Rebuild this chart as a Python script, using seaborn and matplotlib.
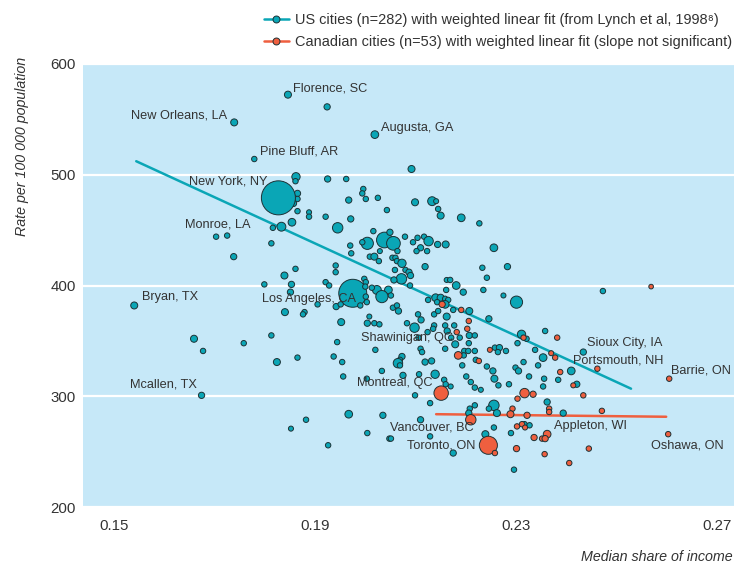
import matplotlib

matplotlib.use("Agg")  # no display
import matplotlib.pyplot as plt
import pandas as pd
import seaborn as sns
from matplotlib.lines import Line2D

# US cities: median share of income, rate per 100 000, population weight
us_share = [
    0.1846, 0.1924, 0.1739, 0.2019, 0.1779, 0.2092, 0.1862, 0.1861, 0.1925, 0.1962,
    0.1865, 0.1865, 0.1857, 0.1806, 0.1865, 0.1888, 0.1888, 0.1921, 0.1971, 0.1967,
    0.1996, 0.1994, 0.2001, 0.2025, 0.2043, 0.1854, 0.1833, 0.1816, 0.1945, 0.1703,
    0.1725, 0.1813, 0.1738, 0.1970, 0.1972, 0.2004, 0.2038, 0.2056, 0.2016, 0.2049,
    0.1994, 0.2079, 0.2009, 0.2018, 0.2027, 0.2029, 0.1941, 0.1941, 0.1861, 0.1839,
    0.1799, 0.1853, 0.1851, 0.1921, 0.1928, 0.1975, 0.1998, 0.2001, 0.2000, 0.2023,
    0.2046, 0.2033, 0.2051, 0.2013, 0.2001, 0.2003, 0.1942, 0.1905, 0.1990, 0.1951,
    0.2099, 0.2133, 0.2141, 0.2145, 0.2150, 0.2191, 0.2227, 0.2095, 0.2104, 0.2117,
    0.2126, 0.2110, 0.2102, 0.2123, 0.2144, 0.2160, 0.2256, 0.2064, 0.2054, 0.2060,
    0.2063, 0.2073, 0.2119, 0.2059, 0.2080, 0.2087, 0.2090, 0.2072, 0.2057, 0.2089,
    0.2233, 0.2283, 0.2242, 0.2162, 0.2169, 0.2181, 0.2161, 0.2195, 0.2235, 0.2275,
    0.2301, 0.2140, 0.2150, 0.2159, 0.2125, 0.2165, 0.2143, 0.2159, 0.2137, 0.2145,
    0.2162, 0.2175, 0.2207, 0.2246, 0.2055, 0.2063, 0.2066, 0.1952, 0.2004, 0.2018,
    0.2028, 0.2105, 0.2111, 0.2098, 0.2083, 0.2008, 0.1840, 0.1879, 0.1876, 0.1659,
    0.1677, 0.1758, 0.1813, 0.1824, 0.1865, 0.1944, 0.1937, 0.1954, 0.2020, 0.2033,
    0.1956, 0.2003, 0.1540, 0.1674, 0.1967, 0.2035, 0.1882, 0.1852, 0.2004, 0.1926,
    0.2048, 0.1827, 0.2137, 0.2135, 0.2159, 0.2163, 0.2177, 0.2124, 0.2171, 0.2188,
    0.2207, 0.2218, 0.2206, 0.2179, 0.2106, 0.2110, 0.2113, 0.2159, 0.2197, 0.2205,
    0.2218, 0.2196, 0.2073, 0.2069, 0.2065, 0.2069, 0.2119, 0.2132, 0.2193, 0.2220,
    0.2242, 0.2254, 0.2257, 0.2265, 0.2280, 0.2258, 0.2267, 0.2264, 0.2303, 0.2311,
    0.2321, 0.2338, 0.2358, 0.2354, 0.2344, 0.2315, 0.2299, 0.2305, 0.2326, 0.2356,
    0.2354, 0.2384, 0.2410, 0.2421, 0.2434, 0.2286, 0.2218, 0.2210, 0.2230, 0.2201,
    0.2157, 0.2160, 0.2139, 0.2170, 0.2107, 0.2075, 0.2099, 0.2129, 0.2256, 0.2246,
    0.2262, 0.2218, 0.2208, 0.2206, 0.2362, 0.2394, 0.2317, 0.2256, 0.2290, 0.2239,
    0.2129, 0.2110, 0.2051, 0.2175, 0.2296, 0.2473, 0.2327,
]
us_rate = [
    572, 561, 547, 536, 514, 505, 498, 494, 496, 496,
    483, 478, 474, 474, 467, 466, 462, 462, 460, 477,
    487, 483, 478, 479, 468, 457, 453, 452, 452, 444,
    445, 438, 426, 436, 429, 438, 441, 438, 449, 448,
    439, 444, 426, 426, 422, 431, 418, 412, 415, 409,
    401, 401, 394, 403, 400, 393, 406, 403, 399, 396,
    396, 390, 391, 398, 390, 385, 381, 383, 382, 383,
    475, 476, 476, 469, 463, 461, 456, 439, 443, 444,
    440, 434, 431, 431, 437, 437, 434, 431, 425, 425,
    422, 420, 417, 414, 414, 412, 409, 406, 405, 400,
    416, 417, 407, 405, 405, 400, 396, 394, 396, 391,
    385, 389, 389, 388, 387, 387, 385, 383, 374, 377,
    372, 378, 377, 370, 380, 382, 377, 367, 366, 366,
    365, 374, 369, 362, 366, 372, 376, 376, 374, 352,
    341, 348, 355, 331, 335, 349, 336, 331, 342, 323,
    318, 316, 382, 301, 284, 283, 279, 271, 267, 256,
    262, 479, 364, 361, 364, 359, 364, 358, 353, 353,
    355, 355, 348, 347, 353, 343, 340, 343, 341, 341,
    341, 337, 336, 333, 330, 328, 331, 332, 328, 333,
    327, 323, 316, 310, 341, 344, 344, 340, 348, 356,
    352, 342, 359, 335, 328, 331, 326, 323, 318, 316,
    309, 315, 323, 311, 340, 311, 308, 313, 306, 318,
    315, 311, 320, 309, 320, 319, 301, 294, 292, 289,
    285, 292, 289, 285, 295, 285, 275, 272, 267, 266,
    264, 279, 262, 249, 234, 395, 274,
]
us_pop = [
    2, 1.5, 2, 2.5, 1, 2, 3, 1, 1.5, 1,
    1.5, 1, 1.5, 1, 1, 0.8, 1, 1, 1.5, 1.5,
    1, 1, 1, 1, 1, 2.5, 3.5, 1, 5, 1,
    1, 1, 1.5, 1, 1, 7, 12, 9, 1, 1.5,
    1, 1, 1, 2, 1, 0.8, 1, 1, 1, 2,
    1, 1.5, 1.5, 1, 1, 39, 1, 1, 1, 3.5,
    2.5, 7, 1, 1, 1, 1, 1.5, 1, 1, 1,
    2, 3.5, 0.8, 1, 2, 2.5, 1, 1, 1, 1,
    4, 1.5, 1, 1, 1.5, 2, 2.5, 1, 1, 1,
    1, 3, 1.5, 1, 1, 1.5, 1.5, 5, 1.5, 1,
    1, 1.5, 1, 0.8, 1, 2.5, 1, 1.5, 1, 0.8,
    7, 2.5, 2, 1, 1, 1, 1, 2.5, 1, 1,
    2, 1, 2, 1.5, 1, 1, 1.5, 2, 1.5, 1,
    1, 1, 1.5, 4, 1, 0.8, 2, 1, 1, 2,
    1, 1, 1, 2, 1, 1, 1, 1, 1, 1,
    1, 1, 2, 1.5, 2.5, 1.5, 1, 0.8, 1, 1,
    1, 58, 1, 1, 1, 1.5, 1, 1, 1, 1,
    1.5, 1, 1, 2, 1, 1, 1, 1, 1, 1,
    1, 1, 1.5, 1, 4, 1, 1.5, 1.5, 1, 1,
    1, 1.5, 2, 1, 1, 1, 1.5, 1, 1, 3,
    1, 1, 1, 2.5, 1, 1, 1, 1.5, 1, 1,
    1, 1, 2.5, 1.5, 1.5, 1, 1, 1, 0.8, 1,
    1, 1, 3, 0.8, 1, 1.5, 1, 1, 5, 1,
    2, 1, 1, 1.5, 1.5, 1.5, 1, 1, 1, 2,
    1, 1.5, 1, 1.5, 1, 1, 1,
]

# Canadian cities
ca_share = [
    0.2151, 0.2210, 0.2245, 0.2185, 0.2605, 0.2603, 0.2191, 0.2206, 0.2203, 0.2153,
    0.2182, 0.2226, 0.2248, 0.2315, 0.2370, 0.2378, 0.2388, 0.2414, 0.2434, 0.2317,
    0.2334, 0.2303, 0.2293, 0.2289, 0.2322, 0.2366, 0.2366, 0.2302, 0.2312, 0.2318,
    0.2362, 0.2336, 0.2352, 0.2358, 0.2258, 0.2301, 0.2357, 0.2406, 0.2445, 0.2462,
    0.2471, 0.2382, 0.2569,
]
ca_rate = [
    303, 279, 256, 337, 316, 266, 378, 368, 361, 383,
    358, 332, 342, 353, 339, 335, 322, 310, 301, 303,
    302, 298, 289, 284, 283, 289, 286, 273, 275, 272,
    266, 263, 262, 262, 249, 253, 248, 240, 253, 325,
    287, 353, 399,
]
ca_pop = [
    10, 5, 16, 2.5, 1, 1, 1, 1, 1, 1.5,
    1, 1, 0.8, 1, 0.8, 1, 1, 0.8, 1, 4,
    1.5, 1, 1, 2, 1.5, 1, 1, 1, 1, 0.8,
    2.5, 1.5, 1, 1.5, 1, 1.5, 1, 1, 1, 1,
    1, 1, 0.6,
]

# weighted linear fits, end points
us_fit_share = [0.1544, 0.2529]
us_fit_rate = [512, 307]
ca_fit_share = [0.2141, 0.2599]
ca_fit_rate = [284, 281.7]

# city labels: text, share, rate, alignment
city_labels = [
    ("Florence, SC", 0.1856, 578, "left"),
    ("New Orleans, LA", 0.1725, 553, "right"),
    ("Augusta, GA", 0.2031, 542, "left"),
    ("Pine Bluff, AR", 0.1791, 521, "left"),
    ("New York, NY", 0.1806, 494, "right"),
    ("Monroe, LA", 0.1771, 455, "right"),
    ("Bryan, TX", 0.1555, 390, "left"),
    ("Los Angeles, CA", 0.1794, 388, "left"),
    ("Mcallen, TX", 0.1665, 311, "right"),
    ("Shawinigan, QC", 0.1991, 353, "left"),
    ("Montreal, QC", 0.2133, 312, "right"),
    ("Vancouver, BC", 0.2216, 272, "right"),
    ("Toronto, ON", 0.2220, 256, "right"),
    ("Sioux City, IA", 0.2442, 348, "left"),
    ("Portsmouth, NH", 0.2413, 332, "left"),
    ("Barrie, ON", 0.2609, 323, "left"),
    ("Appleton, WI", 0.2376, 273, "left"),
    ("Oshawa, ON", 0.2568, 256, "left"),
]

TEAL = "#0aa6b6"
RED = "#ef5f3f"
EDGE = "#1c3236"
BG = "#c6e8f8"
TXT = "#333333"

sns.set_theme(style="white")
plt.rcParams["font.family"] = ["Liberation Sans", "DejaVu Sans"]

us = pd.DataFrame({"share": us_share, "rate": us_rate, "pop": us_pop})
ca = pd.DataFrame({"share": ca_share, "rate": ca_rate, "pop": ca_pop})

fig = plt.figure(figsize=(7.34, 5.65), dpi=100)
ax = fig.add_axes([83 / 734, 1 - 507.4 / 565, 651 / 734, 443.8 / 565])
ax.set_facecolor(BG)

ax.plot(us_fit_share, us_fit_rate, color=TEAL, lw=1.8, zorder=2)
ax.plot(ca_fit_share, ca_fit_rate, color=RED, lw=1.8, zorder=2)

sns.scatterplot(
    data=us, x="share", y="rate", size="pop", sizes=(5, 600), size_norm=(0, 58),
    color=TEAL, edgecolor=EDGE, linewidth=0.7, legend=False, ax=ax, zorder=3,
)
sns.scatterplot(
    data=ca, x="share", y="rate", size="pop", sizes=(5, 600), size_norm=(0, 58),
    color=RED, edgecolor=EDGE, linewidth=0.7, legend=False, ax=ax, zorder=4,
)

for text, sx, ry, ha in city_labels:
    ax.text(sx, ry, text, ha=ha, va="center", fontsize=9.2, color=TXT, zorder=5)

ax.set_xlim(0.1438, 0.2734)
ax.set_ylim(200, 600)
ax.set_xticks([0.15, 0.19, 0.23, 0.27])
ax.set_xticklabels(["0.15", "0.19", "0.23", "0.27"])
ax.set_yticks([200, 300, 400, 500, 600])
ax.yaxis.grid(True, color="white", lw=1.6)
ax.xaxis.grid(False)
ax.set_axisbelow(True)
for s in ax.spines.values():
    s.set_visible(False)
ax.tick_params(axis="x", direction="in", length=4, width=1.2, color="white",
               pad=8, labelsize=10.8, labelcolor=TXT)
ax.tick_params(axis="y", length=0, pad=5, labelsize=10.8, labelcolor=TXT)
ax.set_xlabel("")
ax.set_ylabel("")

fig.text(22 / 734, 1 - 57 / 565, "Rate per 100 000 population", rotation=90,
         ha="center", va="top", fontsize=10.3, style="italic", color=TXT)
fig.text(733 / 734, 1 - 557 / 565, "Median share of income", ha="right",
         va="center", fontsize=10.3, style="italic", color=TXT)

handles = [
    Line2D([0], [0], color=TEAL, lw=1.8, marker="o", markersize=5,
           markerfacecolor=TEAL, markeredgecolor=EDGE, markeredgewidth=0.7),
    Line2D([0], [0], color=RED, lw=1.8, marker="o", markersize=5,
           markerfacecolor=RED, markeredgecolor=EDGE, markeredgewidth=0.7),
]
labels = [
    "US cities (n=282) with weighted linear fit (from Lynch et al, 1998\u2078)",
    "Canadian cities (n=53) with weighted linear fit (slope not significant)",
]
fig.legend(handles, labels, loc="upper left", bbox_to_anchor=(264 / 734, 1 - 13 / 565),
           frameon=False, fontsize=10.45, handlelength=1.7, handletextpad=0.45,
           borderpad=0, borderaxespad=0, labelspacing=0.55, labelcolor=TXT)

fig.savefig("out.png", dpi=100)
